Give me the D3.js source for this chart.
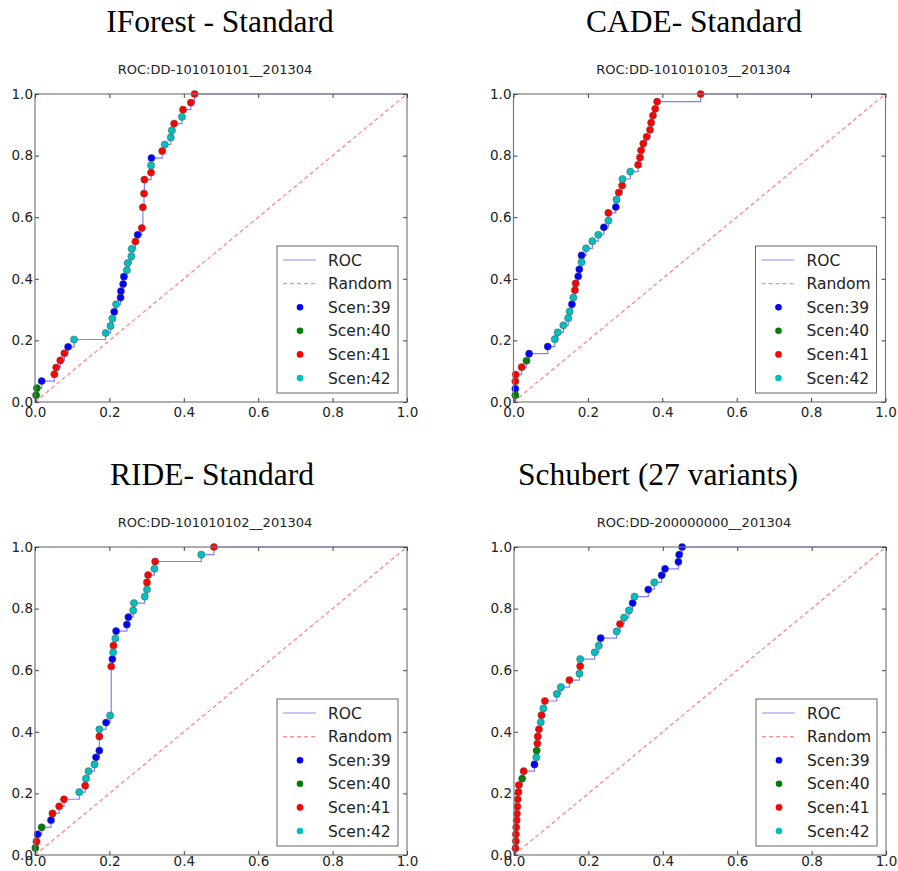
<!DOCTYPE html>
<html>
<head>
<meta charset="utf-8">
<script src="https://cdn.jsdelivr.net/npm/d3@7"></script>
<style>
  body { margin: 0; background: #fff; }
  svg { display: block; }
</style>
</head>
<body>
<div id="container"></div>
<script>
var scenarios = [39, 40, 41, 42]
var scenColors = ['#0000ff', '#007f00', '#ff0000', '#00bfbf']
var bigTitles = ['IForest - Standard', 'CADE- Standard', 'RIDE- Standard', 'Schubert (27 variants)']
var subTitles = ['ROC:DD-101010101__201304', 'ROC:DD-101010103__201304',
                 'ROC:DD-101010102__201304', 'ROC:DD-200000000__201304']
var tickValues = [0, 0.2, 0.4, 0.6, 0.8, 1.0]
var legendLabels = ['ROC', 'Random', 'Scen:39', 'Scen:40', 'Scen:41', 'Scen:42']

// each point: [fpr, tpr, scenario]
var iforestPts = [
  [0.003, 0.022, 40], [0.005, 0.045, 40], [0.018, 0.068, 39], [0.052, 0.090, 41],
  [0.057, 0.112, 41], [0.068, 0.135, 41], [0.079, 0.158, 41], [0.089, 0.179, 39],
  [0.105, 0.203, 42], [0.190, 0.224, 42], [0.203, 0.247, 42], [0.208, 0.271, 42],
  [0.213, 0.293, 39], [0.218, 0.317, 42], [0.230, 0.339, 39], [0.231, 0.360, 39],
  [0.237, 0.383, 39], [0.239, 0.407, 39], [0.247, 0.428, 42], [0.249, 0.451, 42],
  [0.259, 0.473, 42], [0.260, 0.497, 42], [0.270, 0.521, 41], [0.276, 0.543, 39],
  [0.287, 0.565, 41], [0.290, 0.632, 41], [0.293, 0.677, 41], [0.294, 0.722, 41],
  [0.312, 0.745, 41], [0.312, 0.768, 42], [0.313, 0.792, 39], [0.342, 0.815, 41],
  [0.349, 0.836, 42], [0.365, 0.859, 42], [0.368, 0.882, 42], [0.374, 0.904, 41],
  [0.395, 0.926, 42], [0.398, 0.949, 41], [0.419, 0.972, 41], [0.429, 1.000, 41]
]

var cadePts = [
  [0.005, 0.022, 40], [0.005, 0.043, 39], [0.005, 0.067, 41], [0.006, 0.089, 41],
  [0.022, 0.113, 41], [0.035, 0.134, 40], [0.042, 0.157, 39], [0.092, 0.180, 39],
  [0.111, 0.204, 42], [0.119, 0.226, 42], [0.134, 0.249, 42], [0.147, 0.272, 42],
  [0.151, 0.294, 42], [0.157, 0.317, 39], [0.161, 0.339, 42], [0.165, 0.363, 41],
  [0.167, 0.385, 41], [0.174, 0.408, 39], [0.177, 0.431, 39], [0.183, 0.454, 42],
  [0.183, 0.476, 39], [0.195, 0.499, 42], [0.212, 0.522, 42], [0.228, 0.543, 42],
  [0.243, 0.567, 39], [0.255, 0.589, 42], [0.255, 0.614, 41], [0.275, 0.633, 39],
  [0.277, 0.657, 42], [0.283, 0.680, 41], [0.292, 0.703, 41], [0.293, 0.724, 42],
  [0.314, 0.748, 42], [0.335, 0.770, 41], [0.340, 0.794, 41], [0.343, 0.817, 41],
  [0.349, 0.839, 41], [0.358, 0.861, 41], [0.367, 0.884, 41], [0.370, 0.907, 41],
  [0.375, 0.930, 41], [0.381, 0.952, 41], [0.386, 0.975, 41], [0.503, 1.000, 41]
]

var ridePts = [
  [0.001, 0.023, 40], [0.004, 0.044, 41], [0.007, 0.067, 39], [0.018, 0.090, 40],
  [0.043, 0.113, 39], [0.047, 0.135, 41], [0.065, 0.158, 41], [0.078, 0.181, 41],
  [0.119, 0.204, 42], [0.135, 0.225, 41], [0.137, 0.248, 42], [0.144, 0.272, 42],
  [0.160, 0.294, 42], [0.164, 0.317, 39], [0.173, 0.339, 39], [0.173, 0.385, 41],
  [0.173, 0.408, 42], [0.191, 0.430, 39], [0.202, 0.453, 42], [0.205, 0.612, 41],
  [0.208, 0.636, 39], [0.210, 0.658, 42], [0.211, 0.680, 41], [0.216, 0.703, 42],
  [0.218, 0.727, 39], [0.247, 0.748, 39], [0.251, 0.772, 39], [0.264, 0.794, 42],
  [0.266, 0.818, 42], [0.295, 0.839, 42], [0.301, 0.862, 42], [0.301, 0.885, 41],
  [0.304, 0.909, 41], [0.321, 0.929, 42], [0.323, 0.953, 41], [0.447, 0.975, 42],
  [0.481, 1.000, 41]
]

var schubertPts = [
  [0.004, 0.022, 41], [0.005, 0.045, 41], [0.005, 0.067, 41], [0.006, 0.090, 41],
  [0.007, 0.113, 41], [0.008, 0.134, 41], [0.009, 0.157, 41], [0.010, 0.181, 41],
  [0.012, 0.204, 41], [0.013, 0.227, 41], [0.022, 0.248, 40], [0.026, 0.272, 41],
  [0.055, 0.294, 39], [0.060, 0.317, 42], [0.061, 0.339, 40], [0.063, 0.362, 41],
  [0.064, 0.385, 41], [0.067, 0.408, 41], [0.072, 0.431, 42], [0.074, 0.454, 41],
  [0.079, 0.476, 42], [0.083, 0.500, 41], [0.115, 0.523, 42], [0.126, 0.545, 42],
  [0.149, 0.568, 41], [0.176, 0.589, 42], [0.178, 0.613, 41], [0.178, 0.636, 42],
  [0.217, 0.658, 42], [0.228, 0.680, 42], [0.233, 0.704, 39], [0.276, 0.726, 42],
  [0.285, 0.750, 41], [0.296, 0.771, 42], [0.309, 0.794, 42], [0.319, 0.818, 39],
  [0.324, 0.839, 42], [0.361, 0.862, 39], [0.377, 0.885, 42], [0.397, 0.908, 39],
  [0.406, 0.929, 39], [0.442, 0.952, 39], [0.444, 0.975, 39], [0.452, 1.000, 39]
]

var allPts = [iforestPts, cadePts, ridePts, schubertPts]

var W = 898, H = 871
var plotW = 372, plotH = 308
// panel placement (left, top of the axes box), big-title centre, x label padding
var panelPos = [
  {left: 35, top: 94, titleX: 220, pad: 5},
  {left: 513.5, top: 94, titleX: 694, pad: 5},
  {left: 35, top: 547, titleX: 212, pad: 1},
  {left: 514, top: 547, titleX: 658, pad: 1}
]

var svg = d3.select('#container').append('svg')
  .attr('width', W)
  .attr('height', H)

var colorOf = d3.scaleOrdinal().domain(scenarios).range(scenColors)

function drawPanel(i) {
  var pos = panelPos[i]
  var pts = allPts[i]
  var x = d3.scaleLinear().domain([0, 1]).range([pos.left, pos.left + plotW])
  var y = d3.scaleLinear().domain([0, 1]).range([pos.top + plotH, pos.top])
  var g = svg.append('g')

  g.append('text')
    .attr('x', pos.titleX)
    .attr('y', pos.top - 62)
    .attr('text-anchor', 'middle')
    .style('font-family', '"Liberation Serif", "Times New Roman", serif')
    .style('font-size', '31.5px')
    .attr('fill', '#000')
    .text(bigTitles[i])

  g.append('text')
    .attr('x', pos.left + plotW / 2 - 6)
    .attr('y', pos.top - 20)
    .attr('text-anchor', 'middle')
    .style('font-family', '"DejaVu Sans", sans-serif')
    .style('font-size', '13px')
    .attr('fill', '#222')
    .text(subTitles[i])

  // random guess line
  g.append('path')
    .datum([[0, 0], [1, 1]])
    .attr('d', d3.line().x(d => x(d[0])).y(d => y(d[1])))
    .attr('fill', 'none')
    .attr('stroke', '#ff0000')
    .attr('stroke-opacity', 0.5)
    .attr('stroke-width', 1.2)
    .attr('stroke-dasharray', '4,3')

  // ROC step curve
  var rocPts = [[0, 0]].concat(pts.map(p => [p[0], p[1]]), [[1, 1]])
  g.append('path')
    .datum(rocPts)
    .attr('d', d3.line().curve(d3.curveStepAfter).x(d => x(d[0])).y(d => y(d[1])))
    .attr('fill', 'none')
    .attr('stroke', '#0000ff')
    .attr('stroke-opacity', 0.5)
    .attr('stroke-width', 1.2)

  scenarios.forEach(function (s) {
    g.selectAll(null)
      .data(pts.filter(p => p[2] === s))
      .enter().append('circle')
      .attr('cx', d => x(d[0]))
      .attr('cy', d => y(d[1]))
      .attr('r', 3.6)
      .attr('fill', colorOf(s))
      .attr('stroke', '#555')
      .attr('stroke-width', 0.5)
  })

  // frame
  g.append('rect')
    .attr('x', pos.left)
    .attr('y', pos.top)
    .attr('width', plotW)
    .attr('height', plotH)
    .attr('fill', 'none')
    .attr('stroke', '#7a7a7a')
    .attr('stroke-width', 1.2)

  var fmt = d3.format('.1f')
  var axB = g.append('g').attr('transform', 'translate(0,' + (pos.top + plotH) + ')')
    .call(d3.axisBottom(x).tickValues(tickValues).tickSize(-4).tickPadding(pos.pad).tickFormat(fmt))
  var axL = g.append('g').attr('transform', 'translate(' + pos.left + ',0)')
    .call(d3.axisLeft(y).tickValues(tickValues).tickSize(-4).tickPadding(2).tickFormat(fmt))
  var axT = g.append('g').attr('transform', 'translate(0,' + pos.top + ')')
    .call(d3.axisTop(x).tickValues(tickValues).tickSize(-4).tickFormat(''))
  var axR = g.append('g').attr('transform', 'translate(' + (pos.left + plotW) + ',0)')
    .call(d3.axisRight(y).tickValues(tickValues).tickSize(-4).tickFormat(''))
  ;[axB, axL, axT, axR].forEach(function (ax) {
    ax.select('.domain').remove()
    ax.selectAll('line').attr('stroke', '#444')
    ax.selectAll('text')
      .style('font-family', '"DejaVu Sans", sans-serif')
      .style('font-size', '13.5px')
      .attr('fill', '#222')
  })

  // legend
  var lw = 121, lh = 147
  var lx = pos.left + plotW - 9 - lw
  var ly = pos.top + plotH - 9 - lh
  var leg = g.append('g').attr('transform', 'translate(' + lx + ',' + ly + ')')
  leg.append('rect')
    .attr('width', lw).attr('height', lh)
    .attr('fill', '#fff')
    .attr('stroke', '#666')
    .attr('stroke-width', 1)
  legendLabels.forEach(function (lab, k) {
    var ry = 14 + k * 23.6
    if (k === 0) {
      leg.append('line').attr('x1', 6).attr('x2', 39).attr('y1', ry).attr('y2', ry)
        .attr('stroke', '#0000ff').attr('stroke-opacity', 0.45).attr('stroke-width', 1.2)
    } else if (k === 1) {
      leg.append('line').attr('x1', 6).attr('x2', 39).attr('y1', ry).attr('y2', ry)
        .attr('stroke', '#ff0000').attr('stroke-opacity', 0.45).attr('stroke-width', 1.2)
        .attr('stroke-dasharray', '4,3')
    } else {
      leg.append('circle').attr('cx', 23).attr('cy', ry).attr('r', 3.3)
        .attr('fill', colorOf(scenarios[k - 2]))
    }
    leg.append('text')
      .attr('x', 51).attr('y', ry).attr('dy', '0.36em')
      .style('font-family', '"DejaVu Sans", sans-serif')
      .style('font-size', '15.5px')
      .attr('fill', '#222')
      .text(lab)
  })
}

for (var i = 0; i < 4; i++) drawPanel(i)
</script>
</body>
</html>
